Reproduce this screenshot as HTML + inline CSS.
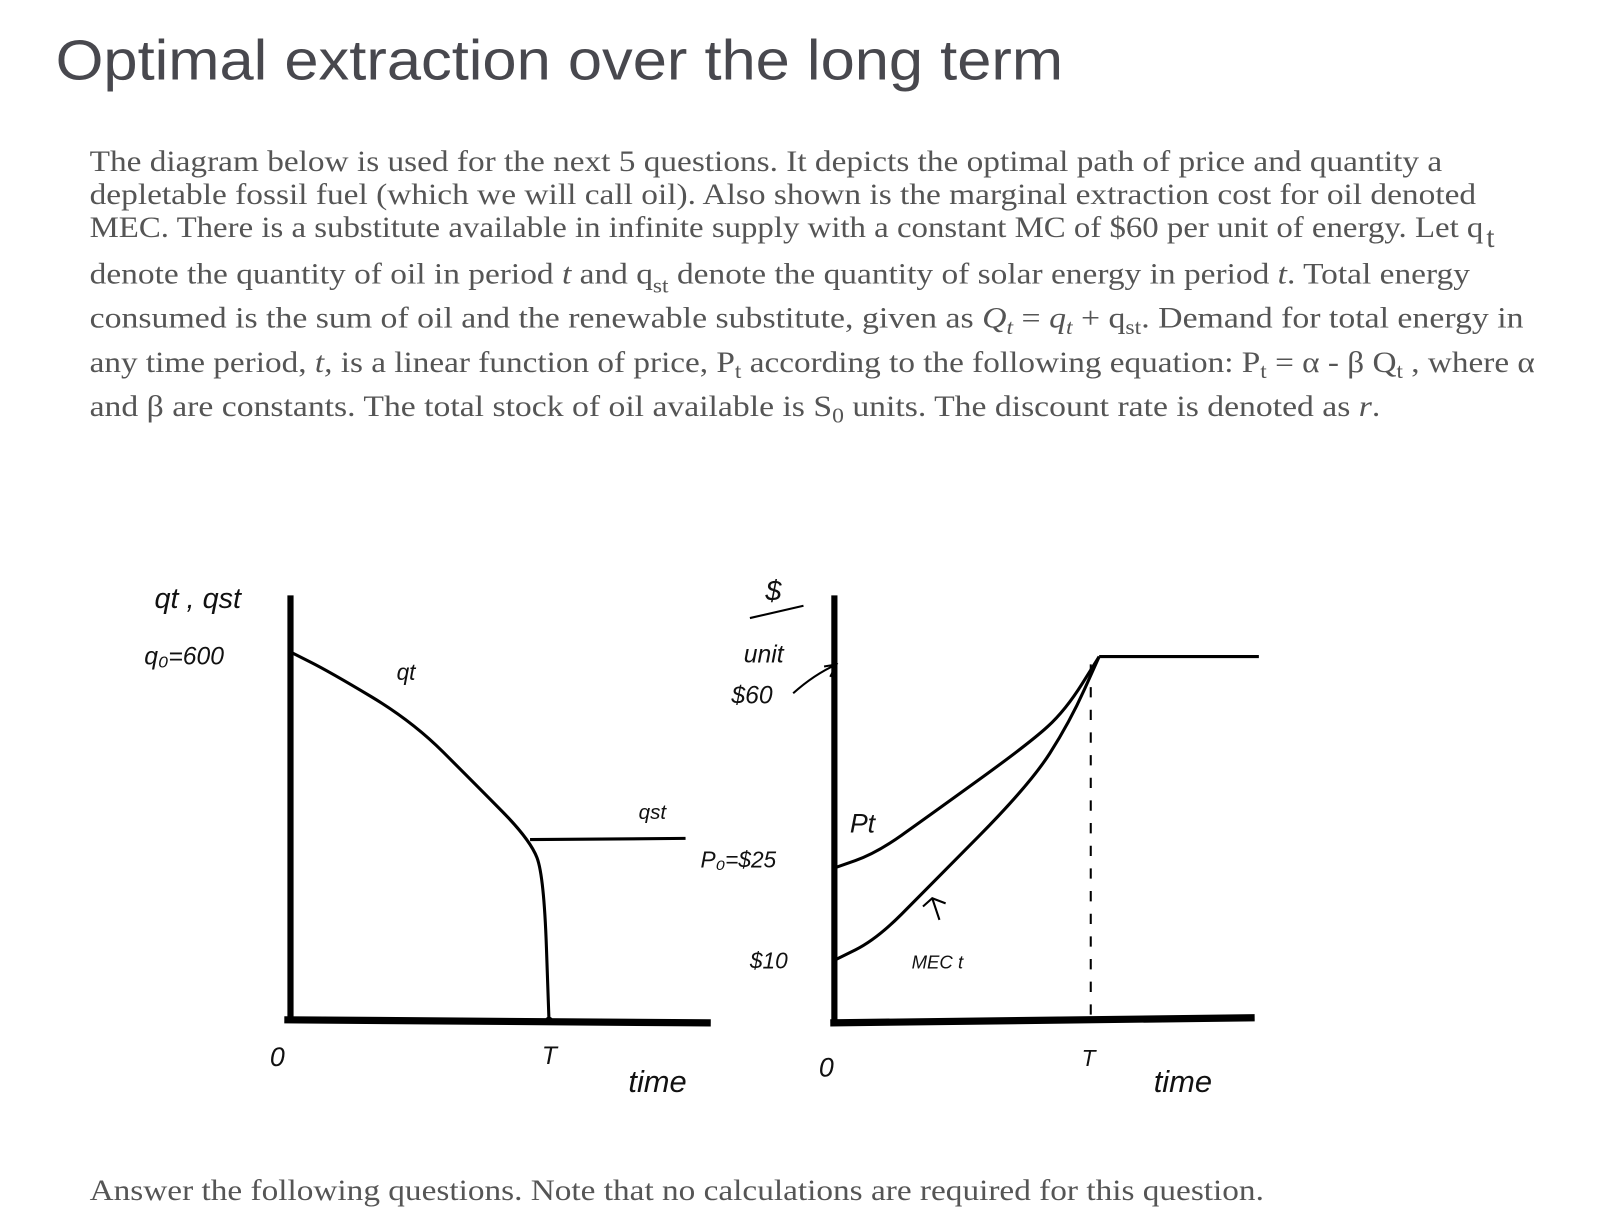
<!DOCTYPE html>
<html><head><meta charset="utf-8"><style>
html,body{margin:0;padding:0;background:#fff;}
svg{display:block;}
.p{font-family:"Liberation Serif",serif;font-size:28.5px;fill:#555;}
.h{font-family:"Liberation Sans",sans-serif;fill:#111;font-style:italic;}
</style></head><body>
<svg id="root" width="1607" height="1230" viewBox="0 0 1607 1230">
<g transform="scale(1.0301)">
<text x="54" y="77" font-family="'Liberation Sans',sans-serif" font-size="55" fill="#48484e" textLength="978" lengthAdjust="spacingAndGlyphs">Optimal extraction over the long term</text>
<g>
<text class="p" x="87" y="166" textLength="1313" lengthAdjust="spacingAndGlyphs">The diagram below is used for the next 5 questions.  It depicts the optimal path of price and quantity a</text>
<text class="p" x="87" y="198" textLength="1346" lengthAdjust="spacingAndGlyphs">depletable fossil fuel (which we will call oil).  Also shown is the marginal extraction cost for oil denoted</text>
<text class="p" x="87" y="230" textLength="1353" lengthAdjust="spacingAndGlyphs">MEC.   There is a substitute available in infinite supply with a constant MC of $60 per unit of energy. Let q</text>
<text class="p" x="1443" y="240" font-size="20">t</text>
<text class="p" x="87" y="275" textLength="1340" lengthAdjust="spacingAndGlyphs">denote the quantity of oil in period <tspan font-style="italic">t</tspan> and q<tspan font-size="20" dy="9">st</tspan><tspan dy="-9"> denote the quantity of solar energy in period </tspan><tspan font-style="italic">t</tspan>.  Total energy</text>
<text class="p" x="87" y="318" textLength="1392" lengthAdjust="spacingAndGlyphs">consumed is the sum of oil and the renewable substitute, given as <tspan font-style="italic">Q</tspan><tspan font-size="20" dy="6" font-style="italic">t</tspan><tspan dy="-6"> = </tspan><tspan font-style="italic">q</tspan><tspan font-size="20" dy="6" font-style="italic">t</tspan><tspan dy="-6"> +  q</tspan><tspan font-size="20" dy="6">st</tspan><tspan dy="-6">.  Demand for total energy in</tspan></text>
<text class="p" x="87" y="361" textLength="1403" lengthAdjust="spacingAndGlyphs">any time period, <tspan font-style="italic">t,</tspan> is a linear function of price, P<tspan font-size="20" dy="6">t</tspan><tspan dy="-6"> according to the following equation: P</tspan><tspan font-size="20" dy="6">t</tspan><tspan dy="-6"> = α - β Q</tspan><tspan font-size="20" dy="6">t</tspan><tspan dy="-6"> , where α</tspan></text>
<text class="p" x="87" y="404" textLength="1253" lengthAdjust="spacingAndGlyphs">and β are constants.  The total stock of oil available is S<tspan font-size="20" dy="6">0</tspan><tspan dy="-6"> units.  The discount rate is denoted as </tspan><tspan font-style="italic">r</tspan>.</text>
</g>
<g id="left"></g>
<g id="right"></g>
<text class="p" x="87" y="1165" textLength="1140" lengthAdjust="spacingAndGlyphs">Answer the following questions.  Note that no calculations are required for this question.</text>
</g>
</svg>
<script>
// Left chart data (time 0-100, quantity)
const qtTimes = [0, 9.3, 29, 43.6, 57, 60.3, 61.5];
const qtValues = [600, 568, 487, 387, 294, 235, 0];
const qstTimes = [57, 94];
const qstValues = [294, 296];
const leftT = 61.5;
// Right chart data (time 0-100, $/unit)
const ptTimes = [0, 10, 22, 46.5, 55, 63];
const ptValues = [25.5, 28, 34, 46.5, 52, 61];
const backstopTimes = [63, 101];
const backstopValues = [61, 61];
const mecTimes = [0, 10, 22, 46.5, 56, 63];
const mecValues = [10, 13.5, 22, 39.5, 50, 61];
const rightT = 61;

const NS = "http://www.w3.org/2000/svg";
function mk(parent, tag, attrs, txt){const e=document.createElementNS(NS,tag);for(const k in attrs)e.setAttribute(k,attrs[k]);if(txt!==undefined)e.textContent=txt;parent.appendChild(e);return e;}
function lxs(t){return 282 + t*4.08;}
function lys(q){return 990 - q*0.595;}
function rxs(t){return 810 + t*4.08;}
function rys(p){return 990 - p*5.78;}
function smooth(xs,ys,fx,fy){let d="M"+fx(xs[0])+","+fy(ys[0]);for(let i=1;i<xs.length;i++){const x0=fx(xs[i-1]),y0=fy(ys[i-1]),x1=fx(xs[i]),y1=fy(ys[i]);const mx=(x0+x1)/2,my=(y0+y1)/2;d+=" Q"+x0+","+y0+" "+mx+","+my;}d+=" L"+fx(xs[xs.length-1])+","+fy(ys[ys.length-1]);return d;}
function simpleSmooth(xs,ys,fx,fy){let d="M"+fx(xs[0])+","+fy(ys[0]);for(let i=1;i<xs.length;i++)d+=" L"+fx(xs[i])+","+fy(ys[i]);return d;}

const L=document.getElementById('left');
let e;
e=mk(L,'line',{x1:282,y1:578,x2:282,y2:993,stroke:'#000','stroke-width':6});


e=mk(L,'line',{x1:276,y1:990,x2:690,y2:993,stroke:'#000','stroke-width':7});


e=mk(L,'path',{d:smooth(qtTimes,qtValues,lxs,lys),fill:'none',stroke:'#000','stroke-width':3});


e=mk(L,'path',{d:simpleSmooth(qstTimes,qstValues,lxs,lys),fill:'none',stroke:'#000','stroke-width':3});


e=mk(L,'circle',{cx:lxs(leftT),cy:991,r:4,fill:'#000'});


const lt=[['qt , qst',150,590,28,'left-y-axis-title'],['q₀=600',140,645,24,'q0-label'],['qt',385,660,22,'qt-label'],['qst',620,795,20,'qst-label'],['0',262,1035,26,'left-origin-label'],['T',526,1033,24,'left-t-label'],['time',610,1060,30,'left-x-axis-title']];
for(const a of lt){e=mk(L,'text',{x:a[1],y:a[2],'font-size':a[3],class:'h'},a[0]);

}

const R=document.getElementById('right');
e=mk(R,'line',{x1:810,y1:578,x2:810,y2:996,stroke:'#000','stroke-width':6});


e=mk(R,'line',{x1:806,y1:993,x2:1218,y2:988,stroke:'#000','stroke-width':7});


e=mk(R,'line',{x1:rxs(rightT),y1:645,x2:rxs(rightT),y2:990,stroke:'#000','stroke-width':2,'stroke-dasharray':'10,12'});


e=mk(R,'path',{d:smooth(ptTimes,ptValues,rxs,rys),fill:'none',stroke:'#000','stroke-width':3});


e=mk(R,'path',{d:smooth(mecTimes,mecValues,rxs,rys),fill:'none',stroke:'#000','stroke-width':3});


e=mk(R,'path',{d:simpleSmooth(backstopTimes,backstopValues,rxs,rys),fill:'none',stroke:'#000','stroke-width':3});


e=mk(R,'path',{d:'M770,673 Q790,655 812,645 M800,647 L812,645 L806,657 M912,893 L905,872 M896,880 L905,872 L918,877',fill:'none',stroke:'#000','stroke-width':2});


e=mk(R,'line',{x1:728,y1:600,x2:780,y2:588,stroke:'#000','stroke-width':2});


const rt=[['$',743,583,28,'dollar-label'],['unit',722,643,24,'unit-label'],['$60',710,683,24,'sixty-label'],['Pt',825,808,26,'pt-label'],['P₀=$25',680,842,22,'p0-label'],['$10',728,940,22,'ten-label'],['MEC t',885,940,18,'mec-label'],['0',795,1045,26,'right-origin-label'],['T',1050,1035,22,'right-t-label'],['time',1120,1060,30,'right-x-axis-title']];
for(const a of rt){e=mk(R,'text',{x:a[1],y:a[2],'font-size':a[3],class:'h'},a[0]);

}
</script>
</body></html>
